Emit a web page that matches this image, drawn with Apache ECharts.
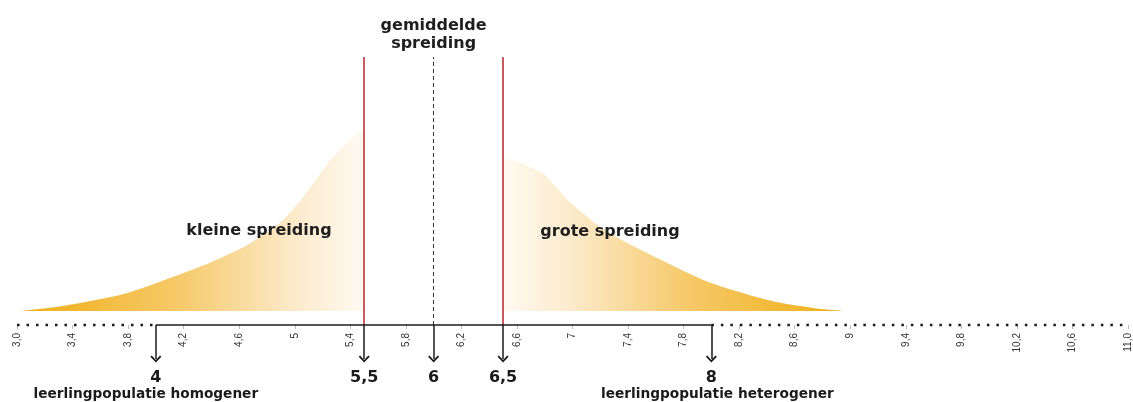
<!DOCTYPE html>
<html>
<head>
<meta charset="utf-8">
<script src="https://cdn.jsdelivr.net/npm/echarts@6/dist/echarts.min.js"></script>
<style>
  html, body { margin: 0; padding: 0; background: #fff; }
  #chart { width: 1133px; height: 402px; }
</style>
</head>
<body>
<div id="chart"></div>
<script>
// axis ticks (dutch decimal comma)
var tickValues = [3.0, 3.4, 3.8, 4.2, 4.6, 5.0, 5.4, 5.8, 6.2, 6.6, 7.0, 7.4, 7.8, 8.2, 8.6, 9.0, 9.4, 9.8, 10.2, 10.6, 11.0];
var tickLabels = ['3,0', '3,4', '3,8', '4,2', '4,6', '5', '5,4', '5,8', '6,2', '6,6', '7', '7,4', '7,8', '8,2', '8,6', '9', '9,4', '9,8', '10,2', '10,6', '11,0'];

// the two shaded shapes
var smallSpreadX = [3.02, 3.33, 3.79, 4.25, 4.41, 4.66, 4.89, 5.02, 5.13, 5.25, 5.43, 5.5];
var smallSpreadY = [0, 0.02, 0.07, 0.16, 0.195, 0.26, 0.345, 0.42, 0.5, 0.59, 0.69, 0.72];
var largeSpreadX = [6.5, 6.59, 6.79, 6.96, 7.2, 7.44, 7.68, 7.85, 8.01, 8.26, 8.49, 8.73, 8.96];
var largeSpreadY = [0.6, 0.59, 0.54, 0.44, 0.33, 0.255, 0.19, 0.145, 0.108, 0.065, 0.033, 0.012, 0];

var spreadBounds = [5.5, 6.5];
var meanSpread = 6;
var axisRange = [3, 11];
var solidRange = [4, 8];

var arrowValues = [4, 5.5, 6, 6.5, 8];
var arrowLabels = ['4', '5,5', '6', '6,5', '8'];
var arrowNotes = ['leerlingpopulatie homogener', '', '', '', 'leerlingpopulatie heterogener'];

var FONT = '"Liberation Sans", Arial, sans-serif';
var BOLD = '"DejaVu Sans", Verdana, sans-serif';
var yMin = -14 / 254;

var myChart = echarts.init(document.getElementById('chart'), null, { renderer: 'canvas' });

function zip(xs, ys) {
  return xs.map(function (x, i) { return [x, ys[i]]; });
}

function tickLabel(v) {
  var i = tickValues.findIndex(function (t) { return Math.abs(t - v) < 1e-6; });
  return i >= 0 ? tickLabels[i] : '';
}

var arrowHead = 'path://M0,10 L10,0 L20,10 L17.5,12 L10,4.5 L2.5,12 Z';

var arrowLines = arrowValues.map(function (v, i) {
  var note = arrowNotes[i];
  var pad = i === 0 ? [0, 20, 0, 0] : [0, 0, 0, 12];
  return [
    { coord: [v, 1] },
    {
      coord: [v, 0],
      label: {
        show: true,
        position: 'end',
        distance: 10,
        formatter: note ? '{n|' + arrowLabels[i] + '}\n{t|' + note + '}' : '{n|' + arrowLabels[i] + '}',
        rich: {
          n: { fontFamily: BOLD, fontSize: 16, fontWeight: 'bold', color: '#1a1a1a', lineHeight: 17 },
          t: { fontFamily: BOLD, fontSize: 13.7, fontWeight: 'bold', color: '#1a1a1a', lineHeight: 16, padding: pad }
        }
      }
    }
  ];
});

var option = {
  animation: false,
  grid: [
    { left: 17, right: 5, top: 57, bottom: 77 },
    { left: 17, right: 5, top: 325, bottom: 43 }
  ],
  xAxis: [
    {
      type: 'value', gridIndex: 0, min: axisRange[0], max: axisRange[1],
      axisLine: { show: false, onZero: false },
      splitLine: { show: false },
      axisTick: { show: true, customValues: tickValues, length: 4, lineStyle: { color: '#bbb' } },
      axisLabel: {
        customValues: tickValues, rotate: 90, fontSize: 10, color: '#333', margin: 8,
        fontFamily: FONT, formatter: tickLabel
      }
    },
    { type: 'value', gridIndex: 1, min: axisRange[0], max: axisRange[1], show: false }
  ],
  yAxis: [
    { type: 'value', gridIndex: 0, min: yMin, max: 1, show: false },
    { type: 'value', gridIndex: 1, min: 0, max: 1, show: false }
  ],
  graphic: [
    { type: 'text', z: 100, x: 259, y: 231, style: { text: 'kleine spreiding', align: 'center', verticalAlign: 'middle', font: 'bold 16px ' + BOLD, fill: '#1e1e1e' } },
    { type: 'text', z: 100, x: 610, y: 232, style: { text: 'grote spreiding', align: 'center', verticalAlign: 'middle', font: 'bold 16px ' + BOLD, fill: '#1e1e1e' } }
  ],
  series: [
    {
      name: 'kleine spreiding', type: 'line', smooth: 0.25, showSymbol: false,
      data: zip(smallSpreadX, smallSpreadY),
      lineStyle: { width: 0 },
      areaStyle: {
        opacity: 1,
        color: new echarts.graphic.LinearGradient(0, 0, 1, 0, [
          { offset: 0, color: '#F0AE14' },
          { offset: 0.45, color: '#F6C867' },
          { offset: 0.8, color: '#FCEACB' },
          { offset: 1, color: '#FFFAF2' }
        ])
      }
    },
    {
      name: 'grote spreiding', type: 'line', smooth: 0.25, showSymbol: false,
      data: zip(largeSpreadX, largeSpreadY),
      lineStyle: { width: 0 },
      areaStyle: {
        opacity: 1,
        color: new echarts.graphic.LinearGradient(0, 0, 1, 0, [
          { offset: 0, color: '#FFFAF2' },
          { offset: 0.2, color: '#FCEACB' },
          { offset: 0.55, color: '#F6C867' },
          { offset: 1, color: '#F0AE14' }
        ])
      }
    },
    {
      name: 'as', type: 'line', showSymbol: false, clip: false, z: 5,
      data: [[solidRange[0], yMin], [solidRange[1], yMin]],
      lineStyle: { color: '#1a1a1a', width: 1.5 },
      markLine: {
        silent: true, symbol: 'none',
        label: { show: false },
        data: [
          { xAxis: spreadBounds[0], lineStyle: { color: '#B3262C', width: 1.5, type: 'solid' } },
          { xAxis: spreadBounds[1], lineStyle: { color: '#B3262C', width: 1.5, type: 'solid' } },
          {
            xAxis: meanSpread,
            lineStyle: { color: '#333', width: 1, type: [4, 3] },
            label: {
              show: true, position: 'end', distance: 4,
              formatter: 'gemiddelde\nspreiding',
              fontFamily: BOLD, fontSize: 16, fontWeight: 'bold', color: '#1e1e1e', lineHeight: 18
            }
          }
        ]
      }
    },
    {
      name: 'as links', type: 'line', showSymbol: false, clip: false, z: 5,
      data: [[axisRange[0], yMin], [solidRange[0], yMin]],
      lineStyle: { color: '#1a1a1a', width: 2.5, type: [2.5, 7] }
    },
    {
      name: 'as rechts', type: 'line', showSymbol: false, clip: false, z: 5,
      data: [[solidRange[1], yMin], [axisRange[1], yMin]],
      lineStyle: { color: '#1a1a1a', width: 2.5, type: [2.5, 7] }
    },
    {
      name: 'pijlen', type: 'line', xAxisIndex: 1, yAxisIndex: 1, showSymbol: false,
      data: arrowValues.map(function (v) { return [v, 1]; }),
      lineStyle: { opacity: 0 },
      markLine: {
        silent: true,
        symbol: ['none', arrowHead],
        symbolSize: [11, 7],
        lineStyle: { color: '#1a1a1a', width: 1.5, type: 'solid' },
        label: { show: false },
        data: arrowLines
      }
    }
  ]
};

myChart.setOption(option);
window.addEventListener('resize', myChart.resize);
</script>
</body>
</html>
